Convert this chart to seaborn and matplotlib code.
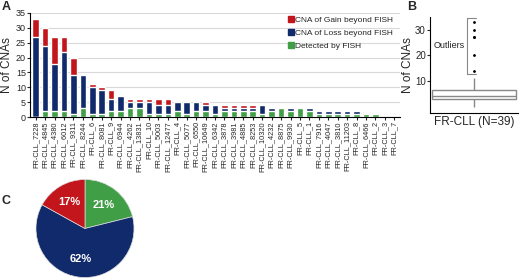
import numpy as np
import pandas as pd
import matplotlib
matplotlib.use("Agg")
import matplotlib.pyplot as plt
import seaborn as sns
from matplotlib.lines import Line2D

# sample ids (panel A, sorted by total CNAs)
samples = ["FR-CLL_7228", "FR-CLL_4845", "FR-CLL_4380", "FR-CLL_6012", "FR-CLL_9311",
           "FR-CLL_8244", "FR-CLL_6", "FR-CLL_8081", "FR-CLL_9", "FR-CLL_6944",
           "FR-CLL_4262", "FR-CLL_13831", "FR-CLL_10", "FR-CLL_5003", "FR-CLL_12477",
           "FR-CLL_4", "FR-CLL_5077", "FR-CLL_6550", "FR-CLL_10649", "FR-CLL_6342",
           "FR-CLL_3878", "FR-CLL_3981", "FR-CLL_4885", "FR-CLL_8253", "FR-CLL_10320",
           "FR-CLL_4232", "FR-CLL_8875", "FR-CLL_9930", "FR-CLL_5", "FR-CLL_1",
           "FR-CLL_7916", "FR-CLL_4047", "FR-CLL_3810", "FR-CLL_11203", "FR-CLL_8",
           "FR-CLL_6466", "FR-CLL_2", "FR-CLL_3", "FR-CLL_7"]
fish = [0, 2, 2, 2, 1, 3, 1, 1, 2, 2, 3, 3, 1, 1, 1, 2, 1, 2, 2, 1,
        2, 2, 2, 2, 1, 2, 3, 2, 3, 2, 1, 1, 1, 1, 1, 1, 1, 0, 0]
loss = [27, 22, 16, 20, 13, 11, 9, 8, 4, 5, 2, 2, 4, 3, 3, 3, 4, 3, 2, 3,
        1, 1, 1, 1, 3, 1, 0, 1, 0, 1, 1, 1, 1, 1, 1, 0, 0, 0, 0]
gain = [6, 6, 9, 5, 6, 0, 1, 1, 3, 0, 1, 1, 1, 2, 2, 0, 0, 0, 1, 0,
        1, 1, 1, 1, 0, 0, 0, 0, 0, 0, 0, 0, 0, 0, 0, 0, 0, 0, 0]

c_gain = "#C3161C"
c_loss = "#102A6C"
c_fish = "#3F9E46"

df = pd.DataFrame({"sample": samples, "fish": fish, "loss": loss, "gain": gain})
df["fish_loss"] = df["fish"] + df["loss"]
df["total"] = df["fish_loss"] + df["gain"]

sns.set_style("white")
plt.rcParams["font.family"] = ["Liberation Sans", "DejaVu Sans"]

fig = plt.figure(figsize=(5.2, 2.8), dpi=100)

# Panel A - stacked bars
ax = fig.add_axes([30 / 520, 1 - 117 / 280, 370 / 520, 104 / 280])
sns.barplot(data=df, x="sample", y="total", color=c_gain, width=0.7, saturation=1, ax=ax)
sns.barplot(data=df, x="sample", y="fish_loss", color=c_loss, width=0.7, saturation=1, ax=ax)
sns.barplot(data=df, x="sample", y="fish", color=c_fish, width=0.7, saturation=1, ax=ax)
ax.set_ylim(0, 35)
ax.set_xlim(-0.6, len(samples) - 0.4)
ax.set_yticks(range(0, 36, 5))
ax.yaxis.grid(True, color="#d9d9d9", linewidth=0.8)
ax.set_axisbelow(True)
ax.set_xlabel("")
ax.set_ylabel("N of CNAs", fontsize=8.5, labelpad=2)
ax.tick_params(axis="y", labelsize=6.5, length=2, pad=1, left=True)
ax.tick_params(axis="x", labelsize=5.3, length=2, pad=1, rotation=90, bottom=True)
for s in ["top", "right"]:
    ax.spines[s].set_visible(False)
for s in ["left", "bottom"]:
    ax.spines[s].set_color("black")
    ax.spines[s].set_linewidth(0.8)
handles = [Line2D([], [], marker="s", linestyle="", color=c, markersize=4)
           for c in (c_gain, c_loss, c_fish)]
ax.legend(handles, ["CNA of Gain beyond FISH", "CNA of Loss beyond FISH", "Detected by FISH"],
          loc="upper left", bbox_to_anchor=(0.69, 1.0), frameon=False, fontsize=6,
          handlelength=0.6, handletextpad=0.2, labelspacing=0.6, borderaxespad=0)
fig.text(2 / 520, 1 - 10 / 280, "A", fontsize=9, fontweight="bold")

# Panel B - boxplot of totals
axb = fig.add_axes([430 / 520, 1 - 113 / 280, 88 / 520, 96 / 280])
sns.boxplot(y=df["total"], ax=axb, width=0.95, color="white", linecolor="#888888",
            linewidth=1, showcaps=False,
            flierprops=dict(marker=".", markersize=2, markerfacecolor="black",
                            markeredgecolor="black"))
axb.set_xlim(-0.5, 0.5)
axb.set_ylim(-2.5, 35)
axb.set_yticks([10, 20, 30])
axb.set_ylabel("N of CNAs", fontsize=8.5, labelpad=1)
axb.set_xlabel("FR-CLL (N=39)", fontsize=8.5, labelpad=2)
axb.set_xticks([])
axb.tick_params(axis="y", labelsize=7, length=2, pad=1, left=True)
for s in ["top", "right"]:
    axb.spines[s].set_visible(False)
for s in ["left", "bottom"]:
    axb.spines[s].set_color("black")
    axb.spines[s].set_linewidth(0.8)
# bracket around outliers
axb.plot([-0.08, -0.08], [12.6, 34.5], color="#888888", linewidth=0.8)
axb.plot([-0.08, 0.02], [34.5, 34.5], color="#888888", linewidth=0.8)
axb.plot([-0.08, 0.02], [12.6, 12.6], color="#888888", linewidth=0.8)
axb.text(-0.11, 24, "Outliers", fontsize=6.5, ha="right", va="center")
fig.text(407 / 520, 1 - 10 / 280, "B", fontsize=9, fontweight="bold")

# Panel C - pie of CNA categories
pie_vals = [df["fish"].sum(), df["loss"].sum(), df["gain"].sum()]
axc = fig.add_axes([35 / 520, 1 - 278 / 280, 100 / 520, 99 / 280])
wedges, texts, autotexts = axc.pie(
    pie_vals, colors=[c_fish, c_loss, c_gain], startangle=90, counterclock=False,
    autopct="%1.0f%%", pctdistance=0.62,
    wedgeprops=dict(edgecolor="#dddddd", linewidth=0.5),
    textprops=dict(color="white", fontsize=8, fontweight="bold"))
axc.set_xlim(-1.01, 1.01)
axc.set_ylim(-1.01, 1.01)
axc.set_aspect("equal")
fig.text(2 / 520, 1 - 204 / 280, "C", fontsize=9, fontweight="bold")

fig.savefig("out.png", dpi=100)
